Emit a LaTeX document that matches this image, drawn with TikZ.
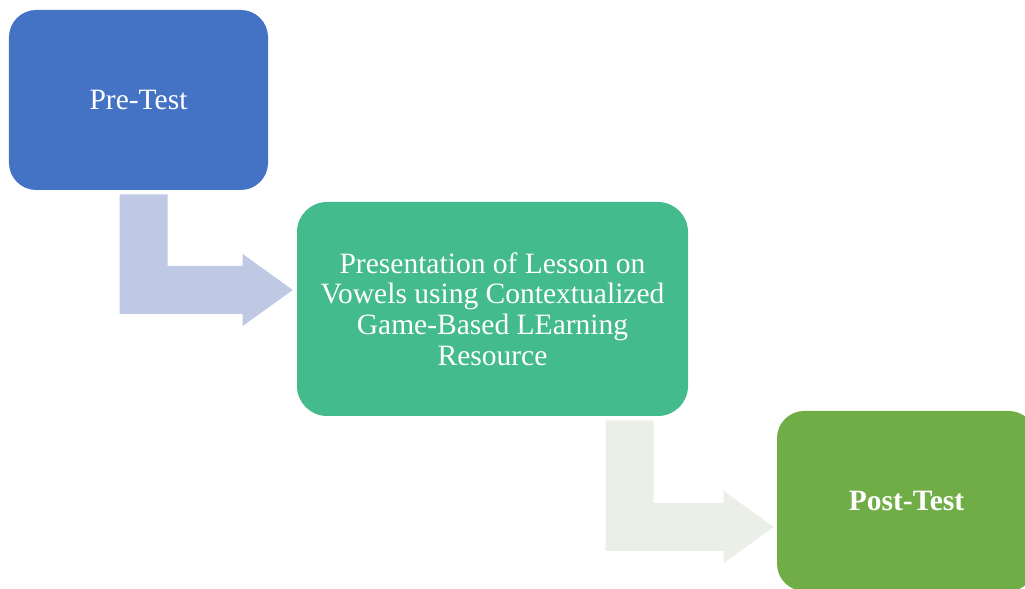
\documentclass[tikz,border=0pt]{standalone}
\usepackage{fontspec}
\setmainfont{Liberation Serif}
\usetikzlibrary{calc}

\definecolor{preblue}{HTML}{4472C4}
\definecolor{arrowblue}{HTML}{BFC9E4}
\definecolor{lessongreen}{HTML}{44BB8C}
\definecolor{arrowgrey}{HTML}{EBEFE8}
\definecolor{postgreen}{HTML}{70AD47}

\tikzset{
	stage/.style={rounded corners=0.68cm, text=white, align=center, inner sep=0pt,
		minimum width=6.475cm, minimum height=4.5cm, font=\fontsize{21}{21.8}\selectfont},
}

% bent block arrow: #2 = top left of the stem, #3 = tip
\newcommand{\elbow}[3]{%
	\fill[#1] let \p1=(#2), \p2=(#3) in
		(\x1,\y1) -- (\x1,\y2-0.6cm) -- (\x2-1.25cm,\y2-0.6cm) -- (\x2-1.25cm,\y2-0.9cm) -- (\x2,\y2)
		-- (\x2-1.25cm,\y2+0.9cm) -- (\x2-1.25cm,\y2+0.6cm) -- (\x1+1.2cm,\y2+0.6cm) -- (\x1+1.2cm,\y1) -- cycle;}

\begin{document}
\begin{tikzpicture}
		\clip (0, 0) rectangle (25.625, 14.725);
		\node [stage, fill=preblue] (pre) at (3.4625, 12.225) {Pre-Test};
		\node [stage, fill=lessongreen, rounded corners=0.75cm, minimum width=9.775cm, minimum height=5.35cm] (lesson) at (12.3125, 7.0)
			{Presentation of Lesson on\\Vowels using Contextualized\\Game-Based LEarning\\Resource};
		\node [stage, fill=postgreen, font=\fontsize{21}{21.8}\selectfont\bfseries] (post) at (22.6625, 2.2) {Post-Test};
		\coordinate (a1) at ($(pre.south west)+(2.775, -0.1)$);
		\coordinate (t1) at ($(lesson.west)+(-0.1, 0.475)$);
		\coordinate (a2) at ($(lesson.south west)+(7.725, -0.1)$);
		\coordinate (t2) at ($(post.west)+(-0.075, -0.65)$);
		\elbow{arrowblue}{a1}{t1}
		\elbow{arrowgrey}{a2}{t2}
	\end{tikzpicture}
\end{document}
